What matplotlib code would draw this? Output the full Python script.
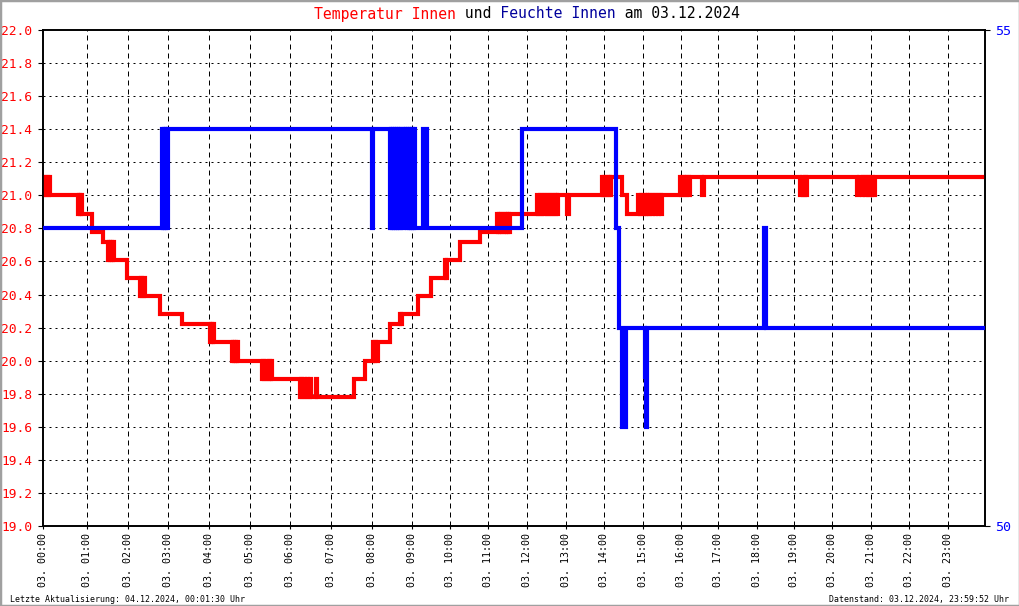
import matplotlib
matplotlib.use("Agg")
import matplotlib.pyplot as plt
from matplotlib.patches import Rectangle

# ---------------- data ----------------
# x axis = sample position (the original chart is sample-indexed, so hours are not evenly spaced)
tick_pos = [0, 44, 85, 125, 166, 207, 247, 288, 329, 369, 407, 445,
            484, 523, 561, 600, 638, 675, 714, 751, 789, 828, 866, 905]
tick_labels = ["03. %02d:00" % h for h in range(24)]
x_end = 942

# temperature levels (deg C)
A, B, C, D, E, F, G, H = 21.11, 21.0, 20.89, 20.78, 20.72, 20.61, 20.5, 20.39
I, J, K, L, M, N = 20.28, 20.22, 20.11, 20.0, 19.89, 19.78

temp_pts = [
    (0, B), (1, A), (2, B), (3, A), (5, B), (5.7, A), (7, B),
    (35, C), (36, B), (37, C), (38, B), (39, C),
    (49, D), (60, E),
    (65, F), (66, E), (67, F), (68, E), (69, F), (70, E), (71, F),
    (84, G),
    (97, H), (98, G), (99, H), (100.5, G), (101.5, H),
    (117, I), (139, J),
    (167, K), (168, J), (169, K), (170, J), (171, K),
    (189, L), (190, K), (191, L), (192, K), (193, L), (194, K), (195, L),
    (219, M), (220, L), (221, M), (223, L), (224, M), (226, L), (227, M), (228, L), (229, M),
    (257, N), (258, M), (259, N), (261, M), (262, N), (264, M), (265, N), (267, M), (268, N),
    (273, M), (274, N),
    (311, M), (322, L),
    (330, K), (331, L), (332, K), (333, L), (335, K),
    (347, J), (357, I), (358, J), (359, I),
    (375, H), (388, G),
    (402, F), (403, G), (404, F),
    (417, E), (437, D),
    (454, C), (455, D), (456, C), (457, D), (458, C), (459, D), (461, C), (462, D),
    (463, C), (464, D), (465, C), (466, D), (467, C),
    (494, B), (495, C), (497, B), (498, C), (499, B), (501, C), (502, B), (504, C),
    (505, B), (506, C), (508, B), (509, C), (510, B), (512, C), (513, B), (514, C), (515, B),
    (524, C), (526, B),
    (559, A), (560, B), (561, A), (562, B), (563, A), (565, B), (566, A), (567, B), (568, A),
    (579, B), (584, C),
    (595, B), (597, C), (598, B), (599, C), (601, B), (602, C), (603, B), (604, C),
    (605, B), (606, C), (607, B), (609, C), (610, B), (612, C), (613, B), (615, C),
    (616, B), (618, C), (619, B),
    (637, A), (638, B), (639, A), (641, B), (642, A), (643, B), (644, A), (646, B), (647, A),
    (659, B), (661, A),
    (757, B), (759, A), (760, B), (762, A), (763, B), (764, A),
    (814, B), (816, A), (819, B), (820, A), (822, B), (823, A), (825, B), (826, A),
    (827, B), (829, A), (830, B), (832, A),
    (x_end, A),
]
temp_x = [p[0] for p in temp_pts]
temp_y = [p[1] for p in temp_pts]

# humidity (% rel.)
hum_pts = [
    (0, 53),
    (119, 54), (120, 53), (121, 54), (122, 53), (123, 54), (124, 53), (125, 54),
    (328.5, 53.5), (329, 53), (330, 54),
    (347, 53), (348, 54), (349, 53), (350, 54), (351, 53), (352, 54), (353, 53),
    (354, 54), (355, 53), (356, 54), (357, 53), (358, 54),
    (360, 53), (361, 54), (362, 53.5), (363, 54), (364, 53), (365, 54), (366, 53),
    (367, 54), (368, 53), (369, 54), (370, 53), (371, 54), (372, 53),
    (380, 54), (384, 53),
    (479, 54),
    (573, 53), (576, 52), (579, 51), (583, 52),
    (602, 51.5), (602.7, 51), (604, 52),
    (721, 53), (723, 52),
    (x_end, 52),
]
hum_x = [p[0] for p in hum_pts]
hum_y = [p[1] for p in hum_pts]

title_parts = [("Temperatur Innen", "#ff0000"), (" und ", "#000000"),
               ("Feuchte Innen", "#00009c"), (" am 03.12.2024", "#000000")]
footer_left = "Letzte Aktualisierung: 04.12.2024, 00:01:30 Uhr"
footer_right = "Datenstand: 03.12.2024, 23:59:52 Uhr"

# ---------------- figure ----------------
W, Hpx = 1020, 606
fig = plt.figure(figsize=(W / 100, Hpx / 100), dpi=100)
fig.patch.set_facecolor("white")
mono = "DejaVu Sans Mono"

ax = fig.add_axes([43 / W, (Hpx - 526) / Hpx, 942 / W, 496 / Hpx])
ax.set_xlim(0, x_end)
ax.set_ylim(19.0, 22.0)
ax.set_yticks([19.0 + 0.2 * k for k in range(16)])
ax.set_yticklabels(["%.1f" % (19.0 + 0.2 * k) for k in range(16)],
                   family=mono, fontsize=9.3, color="#ff0000")
ax.set_xticks(tick_pos)
ax.set_xticklabels(tick_labels, rotation=90, family=mono, fontsize=7.2)
ax.tick_params(axis="y", length=3.6, width=0.8, pad=4.3, direction="out")
ax.tick_params(axis="x", length=2.2, width=0.8, pad=3, direction="out")

# grid
for k in range(1, 15):
    ax.axhline(19.0 + 0.2 * k, color="black", lw=0.72, ls=(0, (2, 4)), zorder=1)
for t in tick_pos[1:]:
    ax.axvline(t, color="black", lw=0.72, ls=(0, (5, 4)), zorder=1)

for s in ax.spines.values():
    s.set_color("black")
    s.set_linewidth(1.2)

ax.plot(temp_x, temp_y, drawstyle="steps-post", color="#ff0000", lw=3.0,
        solid_joinstyle="miter", solid_capstyle="butt", zorder=3)

ax2 = ax.twinx()
ax2.set_ylim(50, 55)
ax2.set_yticks([50, 55])
ax2.set_yticklabels(["50", "55"], family=mono, fontsize=9.6, color="#0000ff")
ax2.tick_params(axis="y", length=3.6, width=0.8, pad=3.6)
ax2.plot(hum_x, hum_y, drawstyle="steps-post", color="#0000ff", lw=3.0,
         solid_joinstyle="miter", solid_capstyle="butt", zorder=3)
for s in ax2.spines.values():
    s.set_color("black")
    s.set_linewidth(1.2)

# title (multicolour, monospace aligned)
full = "".join(p[0] for p in title_parts)
pos = 0
for txt, col in title_parts:
    s = " " * pos + txt + " " * (len(full) - pos - len(txt))
    fig.text(527 / W, 1 - 14 / Hpx, s, family=mono, fontsize=10.6, color=col,
             ha="center", va="center")
    pos += len(txt)

fig.text(10 / W, 1 - 599.5 / Hpx, footer_left, family=mono, fontsize=5.95,
         ha="left", va="center")
fig.text(1009 / W, 1 - 599.5 / Hpx, footer_right, family=mono, fontsize=5.95,
         ha="right", va="center")

fig.patches.append(Rectangle((0, 0), 1, 1, transform=fig.transFigure, fill=False,
                             edgecolor="#a0a0a0", lw=2.5, zorder=10))

fig.savefig("out.png", dpi=100, facecolor="white")
